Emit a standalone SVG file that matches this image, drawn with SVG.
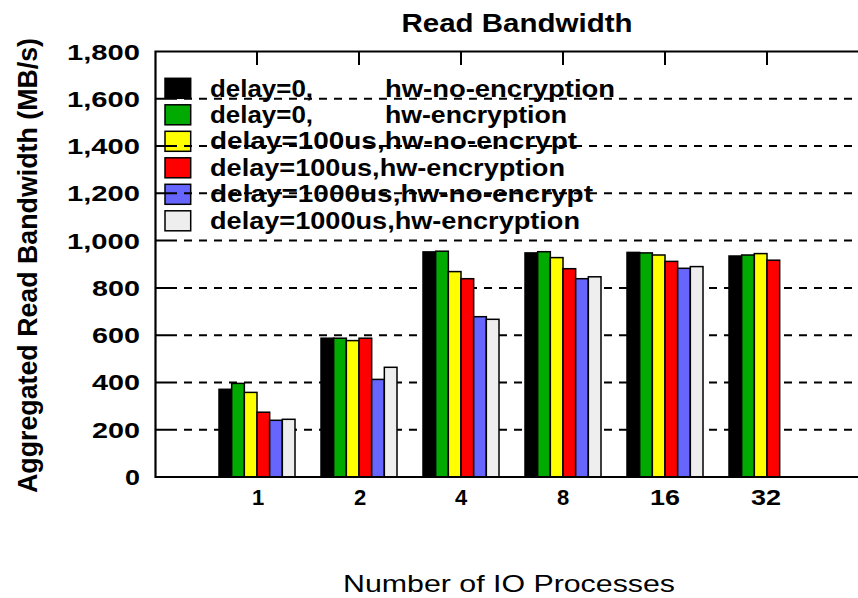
<svg xmlns="http://www.w3.org/2000/svg" width="858" height="598" viewBox="0 0 858 598">
<style>
  .t { font-family: "Liberation Sans", Arial, sans-serif; fill: #000; }
  .b { font-weight: bold; }
  .grid { stroke: #000; stroke-width: 2; stroke-dasharray: 8 7; stroke-dashoffset: 8; fill: none; }
  .tick { stroke: #000; stroke-width: 2; fill: none; }
  .axis { stroke: #000; stroke-width: 2.2; fill: none; }
  .bar { stroke: #000; stroke-width: 1.5; }
  .s1 { fill: #000000; }
  .s2 { fill: #00aa00; }
  .s3 { fill: #ffff00; }
  .s4 { fill: #ff0000; }
  .s5 { fill: #6666ff; }
  .s6 { fill: #eeeeee; }
  .leg { font-size: 23px; }
  .ytl { font-size: 22px; text-anchor: end; }
  .xtl { font-size: 22px; text-anchor: middle; }
</style>
<rect x="0" y="0" width="858" height="598" fill="#fff"/>

<!-- titles -->
<text id="title" class="t b" x="517" y="31.7" font-size="26" text-anchor="middle" textLength="231" lengthAdjust="spacingAndGlyphs">Read Bandwidth</text>
<text id="ylabel" class="t b" transform="translate(37,265.5) rotate(-90)" font-size="28" text-anchor="middle" textLength="455" lengthAdjust="spacingAndGlyphs">Aggregated Read Bandwidth (MB/s)</text>
<text id="xlabel" class="t" x="509" y="591.7" font-size="24" text-anchor="middle" textLength="332" lengthAdjust="spacingAndGlyphs">Number of IO Processes</text>

<!-- legend -->
<g id="legend">
  <g id="leg1"><rect class="bar s1" x="165" y="78.3" width="25.7" height="20"/>
    <text class="t b leg" y="96.5"><tspan x="210" textLength="103" lengthAdjust="spacingAndGlyphs">delay=0,</tspan><tspan x="385" textLength="230" lengthAdjust="spacingAndGlyphs">hw-no-encryption</tspan></text></g>
  <g id="leg2"><rect class="bar s2" x="165" y="104.8" width="25.7" height="20"/>
    <text class="t b leg" y="122.9"><tspan x="210" textLength="103" lengthAdjust="spacingAndGlyphs">delay=0,</tspan><tspan x="385" textLength="182" lengthAdjust="spacingAndGlyphs">hw-encryption</tspan></text></g>
  <g id="leg3"><rect class="bar s3" x="165" y="131.3" width="25.7" height="20"/>
    <text class="t b leg" x="210" y="149.3" textLength="367" lengthAdjust="spacingAndGlyphs">delay=100us,hw-no-encrypt</text></g>
  <g id="leg4"><rect class="bar s4" x="165" y="157.8" width="25.7" height="20"/>
    <text class="t b leg" x="210" y="175.7" textLength="355" lengthAdjust="spacingAndGlyphs">delay=100us,hw-encryption</text></g>
  <g id="leg5"><rect class="bar s5" x="165" y="184.3" width="25.7" height="20"/>
    <text class="t b leg" x="210" y="202.1" textLength="383" lengthAdjust="spacingAndGlyphs">delay=1000us,hw-no-encrypt</text></g>
  <g id="leg6"><rect class="bar s6" x="165" y="210.8" width="25.7" height="20"/>
    <text class="t b leg" x="210" y="228.5" textLength="370" lengthAdjust="spacingAndGlyphs">delay=1000us,hw-encryption</text></g>
</g>

<!-- gridlines and ticks -->
<g id="grid">
  <line class="grid" x1="177" y1="429.7" x2="858" y2="429.7"/>
  <line class="grid" x1="177" y1="382.4" x2="858" y2="382.4"/>
  <line class="grid" x1="177" y1="335.2" x2="858" y2="335.2"/>
  <line class="grid" x1="177" y1="287.9" x2="858" y2="287.9"/>
  <line class="grid" x1="177" y1="240.6" x2="858" y2="240.6"/>
  <line class="grid" x1="177" y1="193.3" x2="858" y2="193.3"/>
  <line class="grid" x1="177" y1="146" x2="858" y2="146"/>
  <line class="grid" x1="177" y1="98.8" x2="858" y2="98.8"/>
  <path class="tick" d="M155 429.7H177M155 382.4H177M155 335.2H177M155 287.9H177M155 240.6H177M155 193.3H177M155 146H177M155 98.8H177"/>
  <path class="tick" d="M257 51.5V65M359 51.5V65M461 51.5V65M563 51.5V65M665 51.5V65M767 51.5V65"/>
</g>

<!-- bars -->
<g id="g1">
  <rect class="bar s1" x="219" y="389.3" width="12.67" height="87.7"/>
  <rect class="bar s2" x="231.67" y="383.4" width="12.67" height="93.6"/>
  <rect class="bar s3" x="244.33" y="392.4" width="12.67" height="84.6"/>
  <rect class="bar s4" x="257" y="412.2" width="12.67" height="64.8"/>
  <rect class="bar s5" x="269.67" y="420.3" width="12.67" height="56.7"/>
  <rect class="bar s6" x="282.33" y="419.3" width="12.67" height="57.7"/>
</g>
<g id="g2">
  <rect class="bar s1" x="321" y="338.2" width="12.67" height="138.8"/>
  <rect class="bar s2" x="333.67" y="338.2" width="12.67" height="138.8"/>
  <rect class="bar s3" x="346.33" y="340.6" width="12.67" height="136.4"/>
  <rect class="bar s4" x="359" y="338.2" width="12.67" height="138.8"/>
  <rect class="bar s5" x="371.67" y="379.4" width="12.67" height="97.6"/>
  <rect class="bar s6" x="384.33" y="367.3" width="12.67" height="109.7"/>
</g>
<g id="g4">
  <rect class="bar s1" x="423" y="251.9" width="12.67" height="225.1"/>
  <rect class="bar s2" x="435.67" y="251.2" width="12.67" height="225.8"/>
  <rect class="bar s3" x="448.33" y="271.6" width="12.67" height="205.4"/>
  <rect class="bar s4" x="461" y="278.7" width="12.67" height="198.3"/>
  <rect class="bar s5" x="473.67" y="316.7" width="12.67" height="160.3"/>
  <rect class="bar s6" x="486.33" y="319.3" width="12.67" height="157.7"/>
</g>
<g id="g8">
  <rect class="bar s1" x="525" y="252.9" width="12.67" height="224.1"/>
  <rect class="bar s2" x="537.67" y="251.7" width="12.67" height="225.3"/>
  <rect class="bar s3" x="550.33" y="257.6" width="12.67" height="219.4"/>
  <rect class="bar s4" x="563" y="268.7" width="12.67" height="208.3"/>
  <rect class="bar s5" x="575.67" y="278.7" width="12.67" height="198.3"/>
  <rect class="bar s6" x="588.33" y="276.8" width="12.67" height="200.2"/>
</g>
<g id="g16">
  <rect class="bar s1" x="627" y="252.4" width="12.67" height="224.6"/>
  <rect class="bar s2" x="639.67" y="252.9" width="12.67" height="224.1"/>
  <rect class="bar s3" x="652.33" y="255" width="12.67" height="222"/>
  <rect class="bar s4" x="665" y="261.4" width="12.67" height="215.6"/>
  <rect class="bar s5" x="677.67" y="268.3" width="12.67" height="208.7"/>
  <rect class="bar s6" x="690.33" y="266.6" width="12.67" height="210.4"/>
</g>
<g id="g32">
  <rect class="bar s1" x="729" y="256" width="12.67" height="221"/>
  <rect class="bar s2" x="741.67" y="255" width="12.67" height="222"/>
  <rect class="bar s3" x="754.33" y="253.6" width="12.67" height="223.4"/>
  <rect class="bar s4" x="767" y="260.2" width="12.67" height="216.8"/>
</g>

<!-- axes frame -->
<g id="axes">
  <path class="axis" d="M858 51.5H155.5V477H858"/>
</g>

<!-- tick labels -->
<g id="yticks" class="t b ytl">
  <text x="140" y="59.5" textLength="73" lengthAdjust="spacingAndGlyphs">1,800</text>
  <text x="140" y="106.8" textLength="73" lengthAdjust="spacingAndGlyphs">1,600</text>
  <text x="140" y="154" textLength="73" lengthAdjust="spacingAndGlyphs">1,400</text>
  <text x="140" y="201.3" textLength="73" lengthAdjust="spacingAndGlyphs">1,200</text>
  <text x="140" y="248.6" textLength="73" lengthAdjust="spacingAndGlyphs">1,000</text>
  <text x="140" y="295.9" textLength="48" lengthAdjust="spacingAndGlyphs">800</text>
  <text x="140" y="343.2" textLength="48" lengthAdjust="spacingAndGlyphs">600</text>
  <text x="140" y="390.4" textLength="48" lengthAdjust="spacingAndGlyphs">400</text>
  <text x="140" y="437.7" textLength="48" lengthAdjust="spacingAndGlyphs">200</text>
  <text x="140" y="485" textLength="15" lengthAdjust="spacingAndGlyphs">0</text>
</g>
<g id="xticks" class="t b xtl">
  <text x="258" y="505">1</text>
  <text x="360" y="505">2</text>
  <text x="461" y="505">4</text>
  <text x="563" y="505">8</text>
  <text x="665" y="505" textLength="30" lengthAdjust="spacingAndGlyphs">16</text>
  <text x="766" y="505" textLength="30" lengthAdjust="spacingAndGlyphs">32</text>
</g>
</svg>
